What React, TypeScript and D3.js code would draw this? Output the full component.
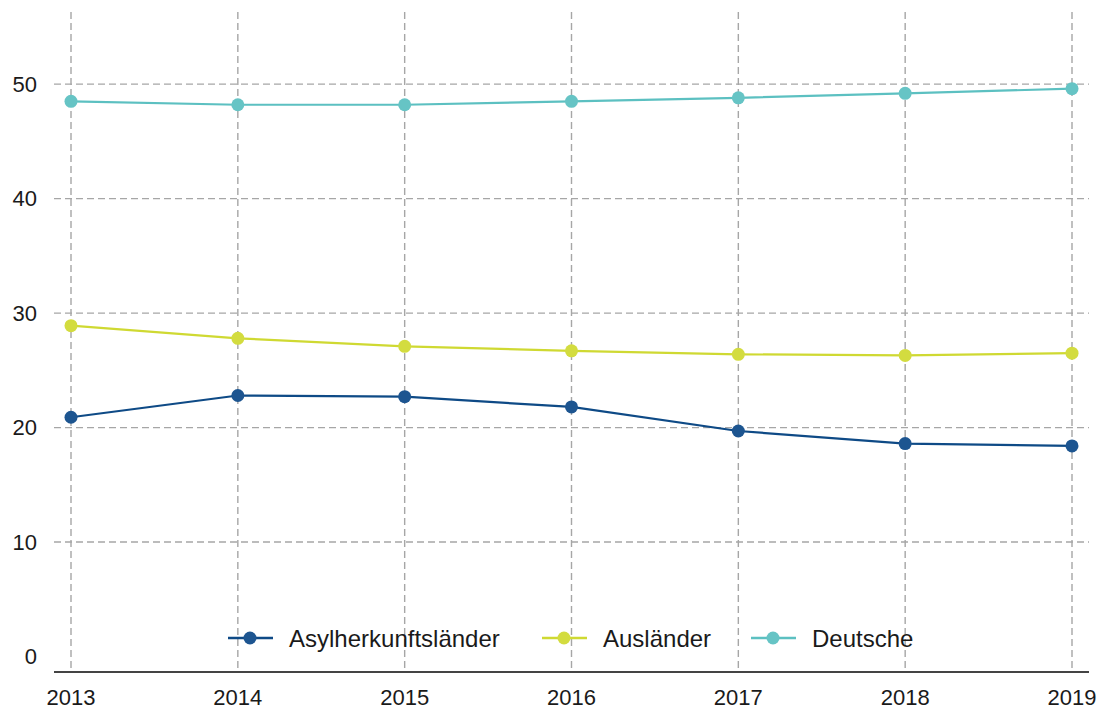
import React from "react";
import * as d3 from "d3";

const years = [2013, 2014, 2015, 2016, 2017, 2018, 2019];
const asyl = [20.9, 22.8, 22.7, 21.8, 19.7, 18.6, 18.4];
const auslaender = [28.9, 27.8, 27.1, 26.7, 26.4, 26.3, 26.5];
const deutsche = [48.5, 48.2, 48.2, 48.5, 48.8, 49.2, 49.6];
const yTicks = [0, 10, 20, 30, 40, 50];
const seriesNames = ["Asylherkunftsländer", "Ausländer", "Deutsche"];
const seriesColors = ["#0e4a86", "#cfd932", "#5cc0c1"];
const pointColors = ["#1d5590", "#d3dc3f", "#66c4c5"];

const W = 1105;
const H = 711;
const left = 54;
const right = 1089;
const top = 12;
const bottom = 672;

export default function App() {
  const x = d3.scalePoint<number>().domain(years).range([71, 1072]);
  const y = d3.scaleLinear().domain([-1.35, 56.3]).range([bottom, top]);
  const line = d3
    .line<number>()
    .x((_, i) => x(years[i]) as number)
    .y((d) => y(d));
  const data = [asyl, auslaender, deutsche];
  const legendLines = [228, 542, 751];
  const font = "'Liberation Sans', Arial, sans-serif";

  return (
    <svg
      width={W}
      height={H}
      style={{ position: "absolute", left: 0, top: 0, background: "#fff" }}
      fontFamily={font}
    >
      <rect width={W} height={H} fill="#fff" />
      {yTicks.map((t) => (
        <g key={"y" + t}>
          {t > 0 && (
            <line
              x1={left}
              x2={right}
              y1={y(t)}
              y2={y(t)}
              stroke="#a6a6a6"
              strokeWidth={1.4}
              strokeDasharray="7,4"
            />
          )}
          <text
            x={37}
            y={y(t)}
            dy="0.35em"
            textAnchor="end"
            fontSize={22}
            fill="#1a1a1a"
          >
            {t}
          </text>
        </g>
      ))}
      {years.map((yr) => (
        <g key={"x" + yr}>
          <line
            x1={x(yr)}
            x2={x(yr)}
            y1={top}
            y2={bottom}
            stroke="#a6a6a6"
            strokeWidth={1.4}
            strokeDasharray="7,4"
          />
          <text
            x={x(yr)}
            y={705}
            textAnchor="middle"
            fontSize={22}
            fill="#1a1a1a"
          >
            {yr}
          </text>
        </g>
      ))}
      <line
        x1={left}
        x2={right}
        y1={bottom}
        y2={bottom}
        stroke="#444"
        strokeWidth={2}
      />
      {data.map((s, si) => (
        <g key={"s" + si}>
          <path
            d={line(s) || ""}
            fill="none"
            stroke={seriesColors[si]}
            strokeWidth={2.2}
          />
          {s.map((v, i) => (
            <circle
              key={i}
              cx={x(years[i])}
              cy={y(v)}
              r={6.5}
              fill={pointColors[si]}
            />
          ))}
        </g>
      ))}
      {seriesNames.map((n, si) => {
        const lx = legendLines[si];
        return (
          <g key={"l" + si}>
            <line
              x1={lx}
              x2={lx + 45}
              y1={638}
              y2={638}
              stroke={seriesColors[si]}
              strokeWidth={2.5}
            />
            <circle cx={lx + 22} cy={638} r={6.5} fill={pointColors[si]} />
            <text x={lx + 61} y={647} fontSize={24} fill="#1a1a1a">
              {n}
            </text>
          </g>
        );
      })}
    </svg>
  );
}
